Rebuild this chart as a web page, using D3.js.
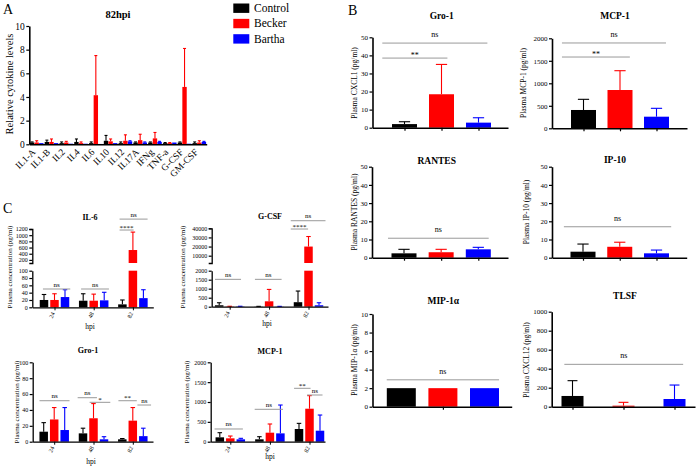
<!DOCTYPE html>
<html>
<head>
<meta charset="utf-8">
<script src="https://d3js.org/d3.v7.min.js"></script>
<style>
body { margin: 0; background: #fff; }
svg text { font-family: "Liberation Serif", "Times New Roman", serif; fill: #000; }
</style>
</head>
<body>
<script>
// ---------- data ----------
var series = ["Control", "Becker", "Bartha"];
var colors = ["#000000", "#ff0000", "#0000ff"];

// A: relative cytokine levels, 82 hpi (mean, SD)
var cytokines = ["IL1-A", "IL1-B", "IL2", "IL4", "IL6", "IL10", "IL12", "IL17A", "IFNg", "TNF-a", "G-CSF", "GM-CSF"];
var relControl   = [0.15, 0.2, 0.1, 0.2, 0.1, 0.3, 0.1, 0.15, 0.15, 0.1, 0.15, 0.1];
var relControlSd = [0.05, 0.15, 0.1, 0.25, 0.1, 0.45, 0.1, 0.05, 0.05, 0.05, 0.05, 0.1];
var relBecker    = [0.15, 0.2, 0.15, 0.1, 4.15, 0.25, 0.3, 0.35, 0.5, 0.1, 4.85, 0.15];
var relBeckerSd  = [0.15, 0.25, 0.1, 0.1, 3.35, 0.2, 0.5, 0.5, 0.5, 0.05, 3.25, 0.15];
var relBartha    = [0.1, 0.1, 0.05, 0.05, 0.03, 0.1, 0.25, 0.15, 0.2, 0.15, 0.05, 0.2];
var relBarthaSd  = [0, 0, 0, 0, 0, 0, 0.05, 0.05, 0.05, 0, 0, 0.05];

// B: plasma levels (Control, Becker, Bartha)
var gro1B = [2.0, 18.5, 2.8],  gro1BSd = [1.3, 16.5, 2.7];
var mcp1B = [407, 851, 258],   mcp1BSd = [237, 429, 186];
var rantesB = [2.4, 3.0, 4.6], rantesBSd = [2.2, 1.6, 1.1];
var ip10B = [3.3, 6.0, 2.4],   ip10BSd = [4.2, 2.5, 1.8];
var mip1aB = [2, 2, 2],        mip1aBSd = [0, 0, 0];
var tlsfB = [113, 11, 81],     tlsfBSd = [161, 35, 147];

// significance bars: from/to in bar index units, v in data units
var gro1BSig = [{from: -0.6, to: 2.24, v: 46.8, t: "ns"}, {from: -0.6, to: 1.16, v: 38.5, t: "**"}];
var mcp1BSig = [{from: -0.59, to: 2.26, v: 1896, t: "ns"}, {from: -0.59, to: 1.27, v: 1584, t: "**"}];
var rantesBSig = [{from: -0.43, to: 2.28, v: 10.7, t: "ns"}];
var ip10BSig = [{from: -0.52, to: 2.4, v: 17, t: "ns"}];
var mip1aBSig = [{from: -0.35, to: 2.35, v: 2.9, t: "ns"}];
var tlsfBSig = [{from: -0.16, to: 2.17, v: 446, t: "ns"}];

// C: time course (hpi)
var hpi = ["24", "48", "82"];
var il6Control = [20, 18, 8],      il6ControlSd = [15, 19, 12];
var il6Becker = [20, 18, 520],     il6BeckerSd = [17, 18, 580];
var il6Bartha = [28, 19, 25],      il6BarthaSd = [20, 22, 23];
var gcsfControl = [80, 10, 250],   gcsfControlSd = [140, 10, 620];
var gcsfBecker = [15, 300, 20000], gcsfBeckerSd = [10, 660, 11000];
var gcsfBartha = [15, 10, 80],     gcsfBarthaSd = [10, 10, 140];
var gro1Control = [12.6, 10.5, 3], gro1ControlSd = [11.4, 6.5, 1];
var gro1Becker = [28, 29.5, 26.5], gro1BeckerSd = [15, 18.5, 16.5];
var gro1Bartha = [14.7, 3, 7],     gro1BarthaSd = [28.3, 3.3, 10];
var mcp1Control = [110, 60, 320],  mcp1ControlSd = [117, 66, 142];
var mcp1Becker = [85, 227, 831],   mcp1BeckerSd = [58, 219, 329];
var mcp1Bartha = [60, 210, 277],   mcp1BarthaSd = [25, 714, 395];

// significance bars: g = group, s0/s1 in series index units
var il6Sig = [{g: 0, s0: -0.1, s1: 2.5, v: 50, t: "ns"}, {g: 1, s0: -0.2, s1: 2.45, v: 50, t: "ns"},
              {g: 2, s0: -0.27, s1: 1.07, v: 1167, t: "****"}, {g: 2, s0: -0.27, s1: 2.4, v: 1520, t: "ns"}];
var gcsfSig = [{g: 0, s0: -0.4, s1: 2.08, v: 1520, t: "ns"}, {g: 1, s0: -0.35, s1: 2.19, v: 1520, t: "ns"},
               {g: 2, s0: -0.69, s1: 0.96, v: 39200, t: "****"}, {g: 2, s0: -0.69, s1: 2.62, v: 48300, t: "ns"}];
var gro1Sig = [{g: 0, s0: -0.4, s1: 2.46, v: 51.6, t: "ns"}, {g: 1, s0: -0.51, s1: 1.33, v: 55.4, t: "ns"},
               {g: 1, s0: 0.63, s1: 2.6, v: 49.6, t: "*"}, {g: 2, s0: -0.37, s1: 1.38, v: 51.6, t: "**"},
               {g: 2, s0: 1.44, s1: 2.74, v: 46.2, t: "ns"}];
var mcp1Sig = [{g: 0, s0: -0.5, s1: 2.2, v: 320, t: "ns"}, {g: 1, s0: -0.45, s1: 2.25, v: 816, t: "ns"},
               {g: 2, s0: -0.47, s1: 1.1, v: 1345, t: "**"}, {g: 2, s0: 0.77, s1: 2.24, v: 1176, t: "ns"}];

// ---------- drawing ----------
var svg = d3.select("body").append("svg").attr("width", 696).attr("height", 466);

function yAxis(g, y, x, ticks, fs, outer, sw) {
  var a = g.append("g").attr("transform", "translate(" + x + ",0)")
    .call(d3.axisLeft(y).tickValues(ticks).tickSize(3).tickSizeOuter(outer || 0)
      .tickPadding(1.5).tickFormat(d3.format("d")));
  a.select(".domain").attr("stroke-width", sw || 1.5);
  a.selectAll(".tick line").attr("stroke-width", 1.2);
  a.selectAll(".tick text").style("font-size", fs + "px");
  return a;
}

function errBar(g, cx, yb, yt, cap, col) {
  g.append("line").attr("x1", cx).attr("x2", cx).attr("y1", yb).attr("y2", yt)
    .attr("stroke", col).attr("stroke-width", 1.1);
  g.append("line").attr("x1", cx - cap / 2).attr("x2", cx + cap / 2).attr("y1", yt).attr("y2", yt)
    .attr("stroke", col).attr("stroke-width", 1.1);
}

function sigBar(g, x0, x1, y, t, fs, nsOff) {
  g.append("line").attr("x1", x0).attr("x2", x1).attr("y1", y).attr("y2", y)
    .attr("stroke", "#999").attr("stroke-width", 1);
  g.append("text").attr("x", (x0 + x1) / 2).attr("y", t === "ns" ? y - nsOff : y - 0.5)
    .attr("text-anchor", "middle").style("font-size", fs + "px").text(t);
}

function yLabel(g, x, y, t, fs) {
  g.append("text").attr("transform", "translate(" + x + "," + y + ") rotate(-90)")
    .attr("text-anchor", "middle").attr("dy", "0.35em").style("font-size", fs + "px").text(t);
}

// panel letters
svg.append("text").attr("x", 3).attr("y", 14).style("font-size", "14px").text("A");
svg.append("text").attr("x", 348).attr("y", 15).style("font-size", "14px").text("B");
svg.append("text").attr("x", 3).attr("y", 213).style("font-size", "14px").text("C");

// ----- Panel A -----
(function () {
  var g = svg.append("g");
  var x = d3.scaleBand().domain(cytokines).range([29.3, 206.7]);
  var xs = d3.scaleBand().domain(series).range([0.6, 14.2]).paddingInner(0.05);
  var y = d3.scaleLinear().domain([0, 10]).range([144.3, 26]);
  var means = [relControl, relBecker, relBartha];
  var sds = [relControlSd, relBeckerSd, relBarthaSd];
  means.forEach(function (m, s) {
    g.selectAll(null).data(m).join("rect")
      .attr("x", function (d, i) { return x(cytokines[i]) + xs(series[s]); })
      .attr("y", function (d) { return y(d); })
      .attr("width", xs.bandwidth())
      .attr("height", function (d) { return y(0) - y(d); })
      .attr("fill", colors[s]);
    m.forEach(function (d, i) {
      if (!sds[s][i]) return;
      var cx = x(cytokines[i]) + xs(series[s]) + xs.bandwidth() / 2;
      errBar(g, cx, y(d), y(d + sds[s][i]), 3, colors[s]);
    });
  });
  yAxis(g, y, 29.3, [0, 2, 4, 6, 8, 10], 9.5, 0, 1.6);
  var ax = g.append("g").attr("transform", "translate(0," + y(0) + ")")
    .call(d3.axisBottom(x).tickSize(0).tickSizeOuter(0));
  ax.select(".domain").attr("stroke-width", 1.6);
  ax.selectAll(".tick text").style("font-size", "9.5px")
    .attr("y", 0).attr("dy", "0.35em").attr("text-anchor", "end")
    .attr("transform", "translate(-3,6) rotate(-45)");
  g.append("text").attr("x", 118).attr("y", 18).attr("text-anchor", "middle")
    .style("font-size", "10.5px").style("font-weight", "bold").text("82hpi");
  yLabel(g, 9, 84, "Relative cytokine levels", 10.5);
})();

// legend
(function () {
  var ly = d3.scalePoint().domain(series).range([3.5, 34.2]);
  var lg = svg.append("g");
  series.forEach(function (s, i) {
    lg.append("rect").attr("x", 233.3).attr("y", ly(s)).attr("width", 16).attr("height", 9.4).attr("fill", colors[i]);
    lg.append("text").attr("x", 254).attr("y", ly(s) + 8.3).style("font-size", "11.5px").text(s);
  });
})();

// ----- Panel B -----
function bPanel(cfg) {
  var g = svg.append("g");
  var y = d3.scaleLinear().domain([0, cfg.max]).range([cfg.y0, cfg.y1]);
  var xi = d3.scaleLinear().domain([0, 2]).range(cfg.c);
  var xl = d3.scaleLinear().domain([cfg.ax, cfg.ex]).range([cfg.ax, cfg.ex]);
  g.selectAll(null).data(cfg.mean).join("rect")
    .attr("x", function (d, i) { return xi(i) - cfg.bw / 2; })
    .attr("y", function (d) { return y(d); })
    .attr("width", cfg.bw)
    .attr("height", function (d) { return y(0) - y(d); })
    .attr("fill", function (d, i) { return colors[i]; });
  cfg.mean.forEach(function (d, i) {
    if (!cfg.sd[i]) return;
    errBar(g, xi(i), y(d), y(d + cfg.sd[i]), cfg.bw * 0.45, colors[i]);
  });
  yAxis(g, y, cfg.ax, cfg.ticks, 7, 0, 1.6);
  var ax = g.append("g").attr("transform", "translate(0," + y(0) + ")")
    .call(d3.axisBottom(xl).tickValues(cfg.xt.map(xi)).tickSize(3).tickSizeOuter(0).tickFormat(""));
  ax.select(".domain").attr("stroke-width", 1.6);
  ax.selectAll(".tick line").attr("stroke-width", 1.2);
  cfg.sig.forEach(function (s) {
    sigBar(g, xi(s.from), xi(s.to), y(s.v), s.t, 8, 6);
  });
  g.append("text").attr("x", cfg.tx).attr("y", cfg.ty).attr("text-anchor", "middle")
    .style("font-size", "9.5px").style("font-weight", "bold").text(cfg.title);
  yLabel(g, cfg.lx, cfg.ly, cfg.ylab, 7.5);
}

bPanel({mean: gro1B, sd: gro1BSd, sig: gro1BSig, max: 50, ticks: d3.range(0, 51, 10), xt: [0, 1, 2],
  ax: 372.5, ex: 508, c: [404.5, 478.5], bw: 25, y0: 127.7, y1: 37.3,
  title: "Gro-1", tx: 441.7, ty: 18.5, ylab: "Plasma CXCL1 (pg/ml)", lx: 354, ly: 83});
bPanel({mean: mcp1B, sd: mcp1BSd, sig: mcp1BSig, max: 2000, ticks: d3.range(0, 2001, 500), xt: [0, 1, 2],
  ax: 552, ex: 687, c: [583.5, 656.5], bw: 25, y0: 128.3, y1: 38.3,
  title: "MCP-1", tx: 615, ty: 18.5, ylab: "Plasma MCP-1 (pg/ml)", lx: 523, ly: 83});
bPanel({mean: rantesB, sd: rantesBSd, sig: rantesBSig, max: 50, ticks: d3.range(0, 51, 10), xt: [0, 1, 2],
  ax: 372, ex: 508, c: [404, 478.3], bw: 25, y0: 257.7, y1: 166.7,
  title: "RANTES", tx: 436.7, ty: 163.5, ylab: "Plasma RANTES (pg/ml)", lx: 354, ly: 212});
bPanel({mean: ip10B, sd: ip10BSd, sig: ip10BSig, max: 50, ticks: d3.range(0, 51, 10), xt: [0, 1, 2],
  ax: 552, ex: 686.7, c: [583, 656.5], bw: 25, y0: 257.7, y1: 166.7,
  title: "IP-10", tx: 615, ty: 163, ylab: "Plasma IP-10 (pg/ml)", lx: 526, ly: 212});
bPanel({mean: mip1aB, sd: mip1aBSd, sig: mip1aBSig, max: 10, ticks: d3.range(0, 11, 2), xt: [1],
  ax: 372.5, ex: 511.7, c: [401.3, 484.5], bw: 29, y0: 406.7, y1: 314,
  title: "MIP-1\u03b1", tx: 443.3, ty: 304, ylab: "Plasma MIP-1\u03b1 (pg/ml)", lx: 354, ly: 360});
bPanel({mean: tlsfB, sd: tlsfBSd, sig: tlsfBSig, max: 1000, ticks: d3.range(0, 1001, 200), xt: [0, 1, 2],
  ax: 551.7, ex: 695, c: [572.5, 674.5], bw: 22, y0: 406.7, y1: 311.7,
  title: "TLSF", tx: 625, ty: 298.5, ylab: "Plasma CXCL12 (pg/ml)", lx: 526, ly: 360});

// ----- Panel C -----
function cPanel(cfg) {
  var g = svg.append("g");
  var low = d3.scaleLinear().domain(cfg.lowDom).range(cfg.lowRange);
  var up = cfg.upDom ? d3.scaleLinear().domain(cfg.upDom).range(cfg.upRange) : null;
  var lowMax = cfg.lowDom[1];
  function fy(v) { return (up && v > lowMax) ? up(v) : low(v); }
  var gx = d3.scalePoint().domain(hpi).range(cfg.c);
  var sx = d3.scaleLinear().domain([0, 2]).range([-10.5, 10.5]);
  var bw = 8.5;
  cfg.mean.forEach(function (m, s) {
    m.forEach(function (v, i) {
      var cx = gx(hpi[i]) + sx(s);
      if (up && v > lowMax) {
        g.append("rect").attr("x", cx - bw / 2).attr("y", low(lowMax)).attr("width", bw)
          .attr("height", low(0) - low(lowMax)).attr("fill", colors[s]);
        g.append("rect").attr("x", cx - bw / 2).attr("y", up(v)).attr("width", bw)
          .attr("height", up(cfg.upDom[0]) - up(v)).attr("fill", colors[s]);
      } else {
        g.append("rect").attr("x", cx - bw / 2).attr("y", low(v)).attr("width", bw)
          .attr("height", low(0) - low(v)).attr("fill", colors[s]);
      }
      var sd = cfg.sd[s][i];
      if (sd) errBar(g, cx, fy(v), fy(v + sd), 4.5, colors[s]);
    });
  });
  yAxis(g, low, cfg.ax, cfg.lowTicks, 6, 0, 1.3);
  if (up) yAxis(g, up, cfg.ax, cfg.upTicks, 6, 3, 1.3);
  var xl = d3.scaleLinear().domain([cfg.ax, cfg.ex]).range([cfg.ax, cfg.ex]);
  var ax = g.append("g").attr("transform", "translate(0," + low(0) + ")")
    .call(d3.axisBottom(xl).tickValues(hpi.map(gx)).tickSize(3).tickSizeOuter(0)
      .tickFormat(function (d, i) { return hpi[i]; }));
  ax.select(".domain").attr("stroke-width", 1.3);
  ax.selectAll(".tick text").style("font-size", "6px")
    .attr("y", 0).attr("dy", "0.35em").attr("text-anchor", "end")
    .attr("transform", "translate(-2,5) rotate(-65)");
  cfg.sig.forEach(function (s) {
    var g0 = gx(hpi[s.g]);
    sigBar(g, g0 + sx(s.s0), g0 + sx(s.s1), fy(s.v), s.t, 7, 2.5);
  });
  g.append("text").attr("x", cfg.tx).attr("y", cfg.ty).attr("text-anchor", "middle")
    .style("font-size", "8px").style("font-weight", "bold").text(cfg.title);
  yLabel(g, cfg.lx, cfg.ly, "Plasma concentration (pg/ml)", 7);
  g.append("text").attr("x", cfg.hx).attr("y", cfg.hy).attr("text-anchor", "middle")
    .style("font-size", "7.5px").text("hpi");
}

cPanel({mean: [il6Control, il6Becker, il6Bartha], sd: [il6ControlSd, il6BeckerSd, il6BarthaSd], sig: il6Sig,
  ax: 32.3, ex: 153.3, c: [54.5, 132.9],
  lowDom: [0, 100], lowRange: [307.3, 270.7], lowTicks: d3.range(0, 101, 20),
  upDom: [100, 1200], upRange: [263, 229], upTicks: d3.range(200, 1201, 200),
  title: "IL-6", tx: 90, ty: 220, lx: 10, ly: 267, hx: 90, hy: 329});
cPanel({mean: [gcsfControl, gcsfBecker, gcsfBartha], sd: [gcsfControlSd, gcsfBeckerSd, gcsfBarthaSd], sig: gcsfSig,
  ax: 211.7, ex: 328, c: [229.7, 308.5],
  lowDom: [0, 2000], lowRange: [306.7, 270.7], lowTicks: d3.range(0, 2001, 500),
  upDom: [2000, 40000], upRange: [263, 228.3], upTicks: d3.range(10000, 40001, 10000),
  title: "G-CSF", tx: 270, ty: 218.5, lx: 183, ly: 267, hx: 267, hy: 326});
cPanel({mean: [gro1Control, gro1Becker, gro1Bartha], sd: [gro1ControlSd, gro1BeckerSd, gro1BarthaSd], sig: gro1Sig,
  ax: 32.7, ex: 153, c: [54.2, 132.8],
  lowDom: [0, 100], lowRange: [441.7, 362.3], lowTicks: d3.range(0, 101, 20),
  title: "Gro-1", tx: 88, ty: 352.5, lx: 17, ly: 402, hx: 91, hy: 464});
cPanel({mean: [mcp1Control, mcp1Becker, mcp1Bartha], sd: [mcp1ControlSd, mcp1BeckerSd, mcp1BarthaSd], sig: mcp1Sig,
  ax: 210.7, ex: 325, c: [230.3, 309.5],
  lowDom: [0, 2000], lowRange: [441.7, 362.3], lowTicks: d3.range(0, 2001, 500),
  title: "MCP-1", tx: 270, ty: 353.5, lx: 187, ly: 402, hx: 270, hy: 459});
</script>
</body>
</html>
